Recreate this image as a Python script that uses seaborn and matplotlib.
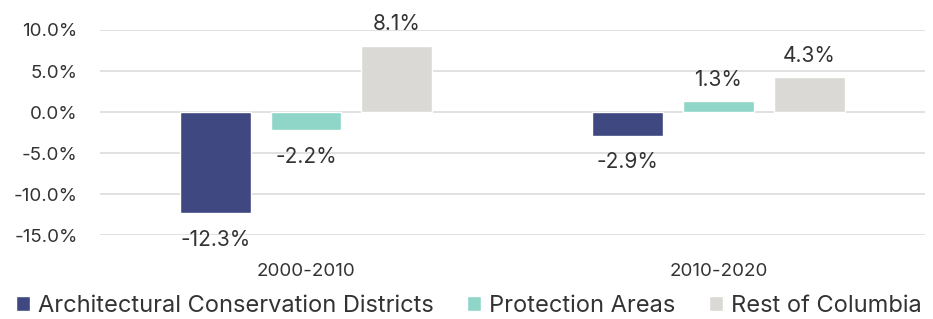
import pandas as pd
import numpy as np
import matplotlib.pyplot as plt
import seaborn as sns
from matplotlib.ticker import FuncFormatter

# values (% change)
periods = ["2000-2010", "2010-2020"]
areas = ["Architectural Conservation Districts", "Protection Areas", "Rest of Columbia"]
acd = [-12.3, -2.9]
protection = [-2.2, 1.3]
rest = [8.1, 4.3]
colors = ["#3f4880", "#8fd6c9", "#dad9d5"]

data = pd.DataFrame({
    "Period": periods * 3,
    "Area": [areas[0]] * 2 + [areas[1]] * 2 + [areas[2]] * 2,
    "Change": acd + protection + rest,
})

sns.set_style("white")
plt.rcParams["font.family"] = ["Inter", "DejaVu Sans"]
text_color = "#333333"

fig = plt.figure(figsize=(9.33, 3.19), dpi=100)
ax = fig.add_axes([0.107, 0.263, 0.884, 0.643])

sns.barplot(data=data, x="Period", y="Change", hue="Area", hue_order=areas,
            palette=colors, saturation=1, width=0.66, gap=0.22, ax=ax, legend=True)

ax.set_ylim(-15, 10)
ax.set_xlim(-0.5, 1.5)
ax.set_yticks([10, 5, 0, -5, -10, -15])
ax.yaxis.set_major_formatter(FuncFormatter(lambda v, p: f"{v:.1f}%"))
ax.grid(axis="y", color="#dcdcdc", linewidth=1.2)
ax.set_axisbelow(True)
for s in ax.spines.values():
    s.set_visible(False)
ax.tick_params(axis="both", length=0, labelsize=13.5, colors=text_color)
ax.tick_params(axis="y", pad=16)
ax.tick_params(axis="x", pad=20)
ax.set_xlabel("")
ax.set_ylabel("")

# value labels
for container in ax.containers:
    for bar in container:
        h = bar.get_height()
        x = bar.get_x() + bar.get_width() / 2
        if h >= 0:
            ax.annotate(f"{h:.1f}%", (x, h), xytext=(0, 8), textcoords="offset points",
                        ha="center", va="bottom", fontsize=15, color=text_color,
                        annotation_clip=False)
        else:
            ax.annotate(f"{h:.1f}%", (x, h), xytext=(0, -12), textcoords="offset points",
                        ha="center", va="top", fontsize=15, color=text_color,
                        annotation_clip=False)

handles, labels = ax.get_legend_handles_labels()
ax.legend_.remove()
fig.legend(handles, labels, loc="lower left", bbox_to_anchor=(-0.006, -0.06), ncol=3,
           frameon=False, fontsize=17, handlelength=0.6, handleheight=0.6,
           handletextpad=0.35, columnspacing=1.4, labelcolor=text_color)

fig.savefig("out.png", dpi=100)
